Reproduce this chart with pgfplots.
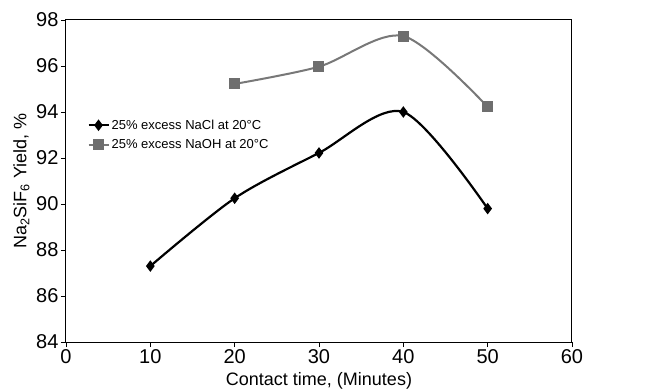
\documentclass[border=0pt]{standalone}
\usepackage{pgfplots}
\pgfplotsset{compat=1.18}
\usepackage{fontspec}
\setmainfont{Liberation Sans}
\definecolor{sgray}{RGB}{110,110,110}
\definecolor{lgray}{RGB}{120,120,120}
\begin{document}
\begin{tikzpicture}
\begin{axis}[
  scale only axis,
  width=506bp, height=322bp,
  xmin=0, xmax=60, ymin=84, ymax=98,
  xtick={0,10,...,60}, ytick={84,86,...,98},
  axis line style={line width=1bp},
  tick style={black, line width=0.8bp},
  tick align=outside,
  xtick pos=bottom, ytick pos=left,
  major tick length=5bp,
  /pgf/number format/assume math mode=true,
  tick label style={font=\fontsize{20bp}{22bp}\selectfont},
  xticklabel style={yshift=1bp},
  yticklabel style={xshift=1bp},
  xlabel={Contact time, (Minutes)},
  ylabel={Na\textsubscript{2}SiF\textsubscript{6} Yield, \%},
  label style={font=\fontsize{18bp}{20bp}\selectfont},
  xlabel style={at={(axis description cs:0.5,-0.12)}, anchor=center},
  ylabel style={at={(axis description cs:-0.088,0.5)}, anchor=center},
  legend style={draw=none, fill=none, at={(rel axis cs:0.04,0.70)}, anchor=north west,
    font=\fontsize{13bp}{15bp}\selectfont, row sep=5bp, inner sep=1bp},
  legend cell align=left,
  legend image code/.code={\draw[#1] (0bp,0bp) -- (20bp,0bp); \draw[#1, only marks] plot coordinates {(10bp,0bp)};},
]
\coordinate (O) at (rel axis cs:0,0);
\addplot[black, line width=2.2bp, smooth, tension=0.5, mark=diamond*, mark size=4bp, mark options={solid}]
  coordinates {(10,87.3) (20,90.25) (30,92.22) (40,94.0) (50,89.8)};
\addlegendentry{25\% excess NaCl at 20°C}
\addplot[lgray, line width=2bp, smooth, tension=0.5, mark=square*, mark size=4.5bp, mark options={solid, sgray, fill=sgray}]
  coordinates {(20,95.22) (30,95.97) (40,97.3) (50,94.22)};
\addlegendentry{25\% excess NaOH at 20°C}
\end{axis}
\pgfresetboundingbox
\path ([shift={(-66bp,-49bp)}]O) rectangle ([shift={(584bp,342bp)}]O);
\end{tikzpicture}
\end{document}
